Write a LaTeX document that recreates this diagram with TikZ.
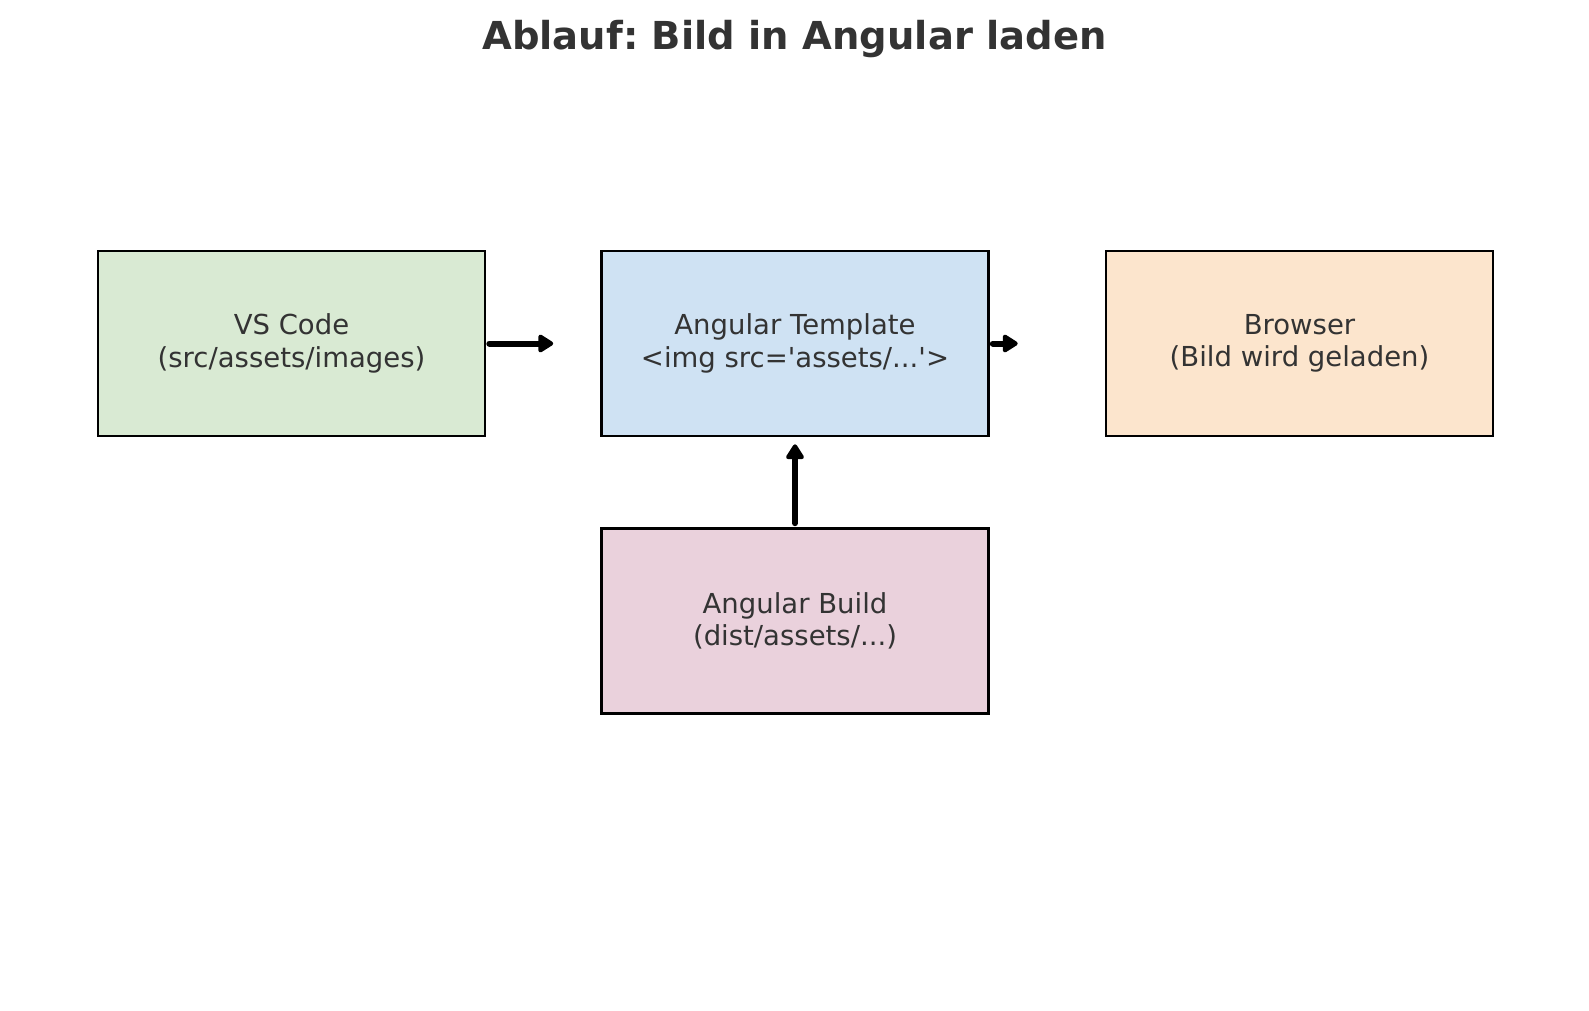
\documentclass[tikz,border=0pt]{standalone}
\usepackage{fontspec}
\setmainfont{DejaVu Sans}
\usepackage{xcolor}
\usetikzlibrary{arrows.meta}
\frenchspacing
\definecolor{txtgrey}{HTML}{333333}
\definecolor{vsgreen}{HTML}{D9EAD3}
\definecolor{tplblue}{HTML}{CFE2F3}
\definecolor{brworange}{HTML}{FCE5CD}
\definecolor{bldpink}{HTML}{EAD1DC}
\tikzset{
    kasten/.style = {draw = black, line width = 2.6pt, minimum width = 387pt,
        minimum height = 185pt, inner sep = 0pt, align = center, text = txtgrey,
        font = \fontsize{27.5}{32.5}\selectfont},
    pfeil/.style = {line width = 6pt, line cap = round,
        -{Triangle[length = 17pt, width = 20pt, round]}}
}

\begin{document}
\begin{tikzpicture}[x = 1pt, y = -1pt]
            \useasboundingbox (0, 0) rectangle (1589, 1010);

            \node[text = txtgrey, font = \fontsize{38.5}{45}\selectfont\bfseries]
                (titel) at (794.5, 39) {Ablauf: Bild in Angular laden};

            \node[kasten, fill = vsgreen] (vscode) at (291.5, 343.5)
                {VS Code\\(src/assets/images)};
            \node[kasten, fill = tplblue] (template) at (795, 343.5)
                {Angular Template\\<img src=\textquotesingle assets/...\textquotesingle>};
            \node[kasten, fill = brworange] (browser) at (1299.5, 343.5)
                {Browser\\(Bild wird geladen)};
            \node[kasten, fill = bldpink] (build) at (795, 621)
                {Angular Build\\(dist/assets/...)};

            \draw[pfeil, shorten <= 3pt, shorten >= 47pt] (vscode.east) -- (template.west);
            \draw[pfeil, shorten <= 3pt, shorten >= 87pt] (template.east) -- (browser.west);
            \draw[pfeil, shorten <= 4pt, shorten >= 7pt] (build.north) -- (template.south);
        \end{tikzpicture}
\end{document}
